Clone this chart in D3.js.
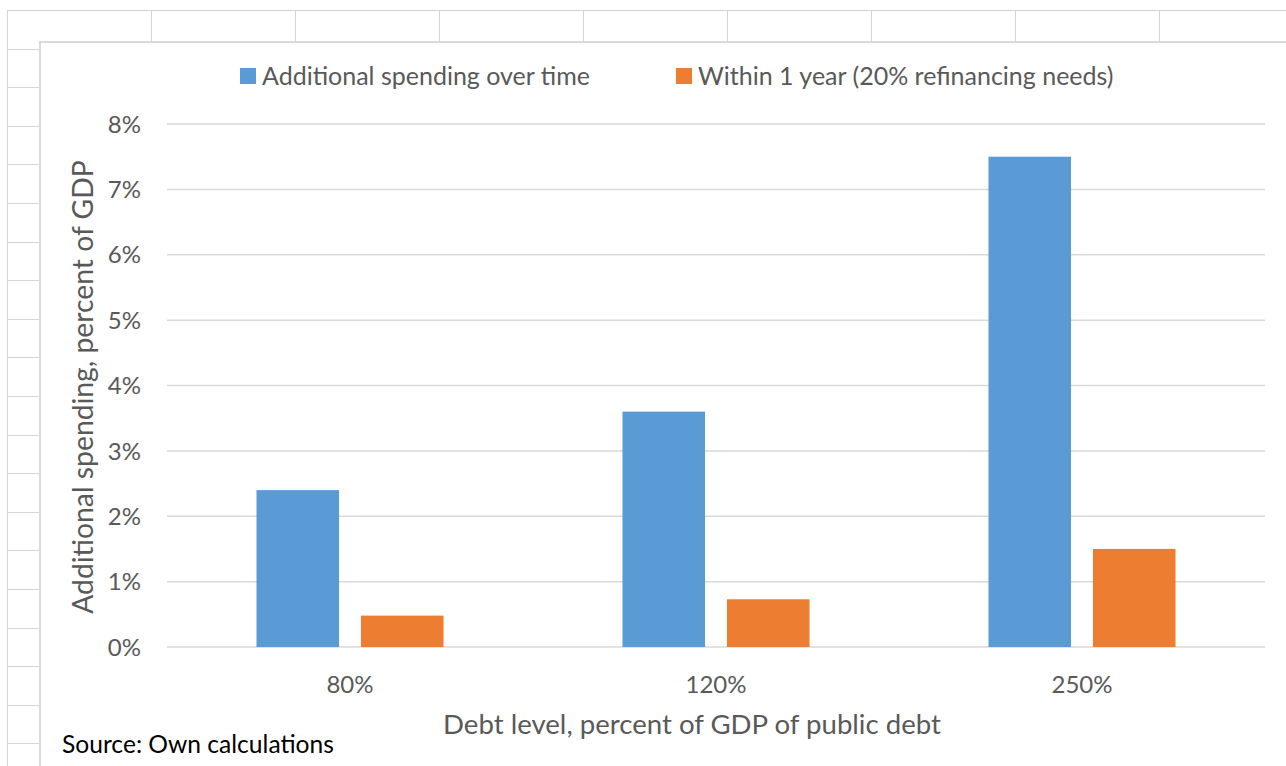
<!DOCTYPE html>
<html><head><meta charset="utf-8">
<script src="https://cdn.jsdelivr.net/npm/d3@7"></script>
<style>body{margin:0;background:#fff;}svg{display:block;}</style>
</head><body>
<svg id="c" width="1286" height="766"></svg>
<script>
const categories = ["80%", "120%", "250%"];
const seriesNames = ["Additional spending over time", "Within 1 year (20% refinancing needs)"];
const spendingOverTime = [2.4, 3.6, 7.5];
const withinOneYear = [0.48, 0.73, 1.5];
const yTicks = [0, 1, 2, 3, 4, 5, 6, 7, 8];
const colors = ["#5b9bd5", "#ed7d31"];

const svg = d3.select("#c");
const font = "Lato, 'Open Sans', sans-serif";

// spreadsheet grid background
const gridG = svg.append("g");
for (let i = 0; i < 10; i++) {
  const x = 7 + i * 144;
  gridG.append("line").attr("x1", x + 0.5).attr("x2", x + 0.5).attr("y1", 10).attr("y2", 766).attr("stroke", "#d4d4d4");
}
for (let i = 0; i < 21; i++) {
  const y = Math.round(10 + i * 38.6);
  gridG.append("line").attr("x1", 7).attr("x2", 1286).attr("y1", y + 0.5).attr("y2", y + 0.5).attr("stroke", "#d4d4d4");
}

// chart area
svg.append("rect").attr("x", 40).attr("y", 42).attr("width", 1260).attr("height", 740)
  .attr("fill", "#fff").attr("stroke", "#d9d9d9").attr("stroke-width", 2);

const plot = {left: 167, right: 1265, top: 124, bottom: 647};
const y = d3.scaleLinear().domain([0, 8]).range([plot.bottom, plot.top]);
const x0 = d3.scaleBand().domain(categories).range([plot.left, plot.right]).paddingInner(0.489).paddingOuter(0.2445);
const x1 = d3.scaleBand().domain(seriesNames).range([0, x0.bandwidth()]).paddingInner(0.21);

// gridlines
svg.append("g").selectAll("line").data(yTicks).join("line")
  .attr("x1", plot.left).attr("x2", plot.right)
  .attr("y1", d => y(d)).attr("y2", d => y(d))
  .attr("stroke", "#d9d9d9").attr("stroke-width", 1.5);

// y tick labels
svg.append("g").selectAll("text").data(yTicks).join("text")
  .attr("x", 141).attr("y", d => y(d)).attr("dy", "0.36em")
  .attr("text-anchor", "end").attr("font-family", font).attr("font-size", 24)
  .attr("fill", "#595959").text(d => d + "%");

// bars
const data = categories.map((c, i) => ({cat: c, vals: [spendingOverTime[i], withinOneYear[i]]}));
const groups = svg.append("g").selectAll("g").data(data).join("g")
  .attr("transform", d => `translate(${x0(d.cat)},0)`);
groups.selectAll("rect").data(d => d.vals.map((v, j) => ({s: seriesNames[j], v, j}))).join("rect")
  .attr("x", d => x1(d.s)).attr("width", x1.bandwidth())
  .attr("y", d => y(d.v)).attr("height", d => y(0) - y(d.v))
  .attr("fill", d => colors[d.j]);

// x tick labels
svg.append("g").selectAll("text").data(categories).join("text")
  .attr("x", d => x0(d) + x0.bandwidth() / 2).attr("y", 693)
  .attr("text-anchor", "middle").attr("font-family", font).attr("font-size", 24)
  .attr("fill", "#595959").text(d => d);

// axis titles
svg.append("text").attr("x", 692).attr("y", 734).attr("text-anchor", "middle")
  .attr("font-family", font).attr("font-size", 27.6).attr("fill", "#595959")
  .text("Debt level, percent of GDP of public debt");
svg.append("text").attr("transform", "translate(93,387) rotate(-90)").attr("text-anchor", "middle")
  .attr("font-family", font).attr("font-size", 28.3).attr("fill", "#595959")
  .text("Additional spending, percent of GDP");

// legend
const legend = [{x: 240, tx: 262}, {x: 676, tx: 698}];
legend.forEach((l, i) => {
  svg.append("rect").attr("x", l.x).attr("y", 68).attr("width", 16).attr("height", 16).attr("fill", colors[i]);
  svg.append("text").attr("x", l.tx).attr("y", 85).attr("font-family", font).attr("font-size", 25)
    .attr("fill", "#595959").text(seriesNames[i]);
});

// source
svg.append("text").attr("x", 62).attr("y", 753).attr("font-family", font).attr("font-size", 24.6)
  .attr("fill", "#000").text("Source: Own calculations");
</script>
</body></html>
